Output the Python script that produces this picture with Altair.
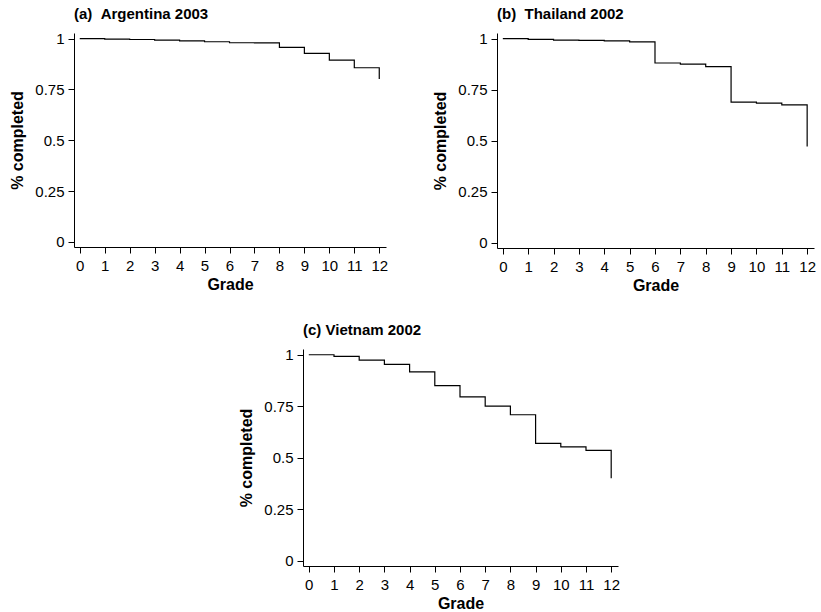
import altair as alt
import pandas as pd

grades = list(range(13))
argentina = [1.0, 0.998, 0.996, 0.993, 0.989, 0.985, 0.980, 0.979, 0.957, 0.928, 0.895, 0.857, 0.802]
thailand = [1.0, 0.997, 0.993, 0.992, 0.989, 0.985, 0.881, 0.876, 0.863, 0.689, 0.685, 0.676, 0.472]
vietnam = [1.0, 0.992, 0.974, 0.953, 0.917, 0.850, 0.796, 0.751, 0.709, 0.570, 0.553, 0.536, 0.401]
y_ticks = [0, 0.25, 0.5, 0.75, 1]

titles = ["(a)\u00a0\u00a0Argentina 2003", "(b)\u00a0\u00a0Thailand 2002", "(c) Vietnam 2002"]
FONT = "Liberation Sans"


def panel(values, title, w, h):
    df = pd.DataFrame({"grade": grades, "pct": values})
    return (
        alt.Chart(df)
        .mark_line(interpolate="step-after", color="black", strokeWidth=1.2)
        .encode(
            x=alt.X(
                "grade:Q",
                scale=alt.Scale(domain=[-0.23, 12.27], nice=False, zero=False),
                axis=alt.Axis(values=grades, title="Grade", format="d"),
            ),
            y=alt.Y(
                "pct:Q",
                scale=alt.Scale(domain=[-0.025, 1.028], nice=False, zero=False),
                axis=alt.Axis(values=y_ticks, title="% completed", format=".2~f"),
            ),
        )
        .properties(
            width=w,
            height=h,
            title=alt.TitleParams(
                title, anchor="start", frame="group", font=FONT, fontSize=15,
                fontWeight="bold", color="black", offset=10,
            ),
        )
    )


a = panel(argentina, titles[0], 312, 214)
b = panel(thailand, titles[1], 317, 215)
c = panel(vietnam, titles[2], 315, 217)

spacer = (
    alt.Chart(pd.DataFrame({"v": [0]}))
    .mark_point(opacity=0)
    .encode(x=alt.value(0), y=alt.value(0))
    .properties(width=164, height=10)
)

top = alt.hconcat(a, b, spacing=44)
bottom = alt.hconcat(spacer, c, spacing=0)
chart = (
    alt.vconcat(top, bottom, spacing=29)
    .properties(padding={"left": 9, "top": 6, "right": 0, "bottom": 0})
    .configure_view(stroke=None)
    .configure_axis(
        grid=False,
        domainColor="black",
        domainWidth=1,
        tickColor="black",
        tickWidth=1,
        tickSize=6,
        labelFont=FONT,
        labelFontSize=15,
        labelColor="black",
        labelPadding=3,
        titleFont=FONT,
        titleFontSize=16,
        titleFontWeight="bold",
        titleColor="black",
        titlePadding=3,
        labelFlush=False,
        labelOverlap=False,
    )
    .configure_axisX(labelPadding=5, titlePadding=3)
    .configure_axisY(titlePadding=9, labelPadding=4)
)

chart.save("out.html", embed_options={"renderer": "svg", "actions": False})
